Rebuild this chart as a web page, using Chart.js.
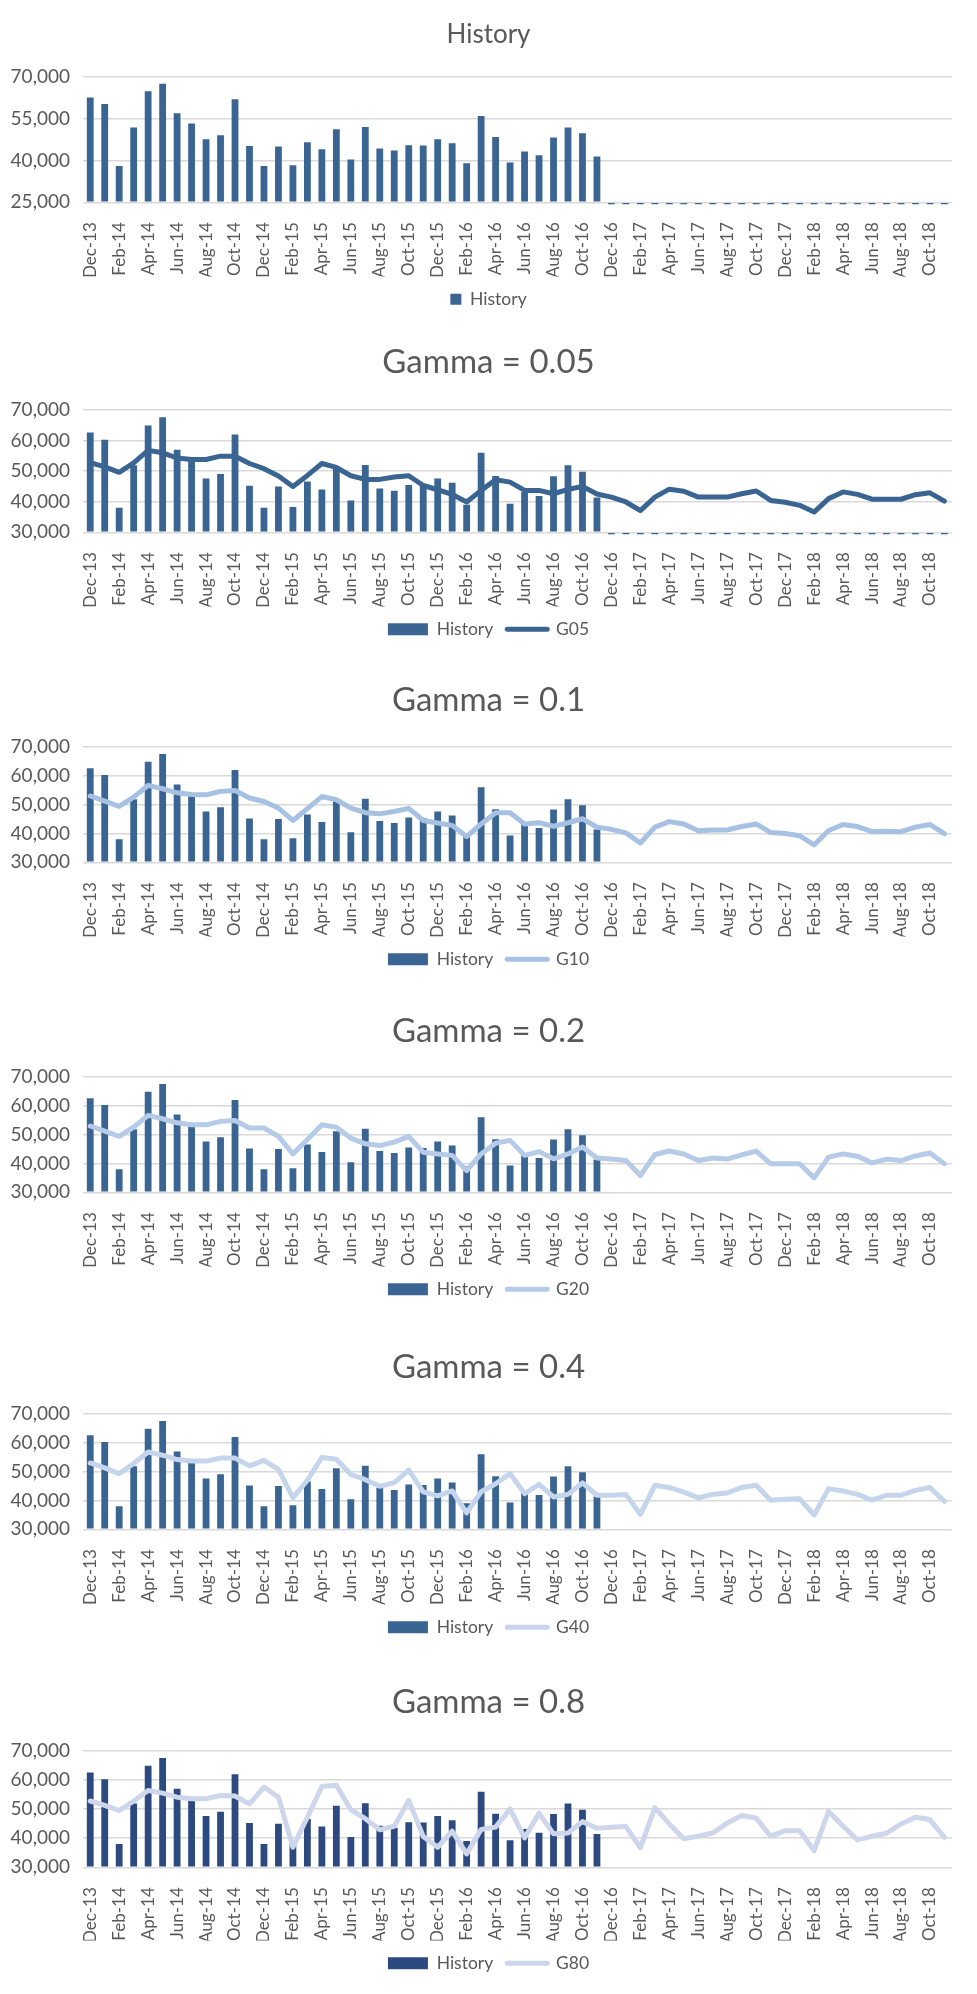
<!DOCTYPE html>
<html>
<head>
<meta charset="utf-8">
<script src="https://cdn.jsdelivr.net/npm/chart.js@4.4.1/dist/chart.umd.min.js"></script>
<style>
  html, body { margin: 0; padding: 0; background: #ffffff; }
  body { position: relative; width: 977px; height: 1994px; overflow: hidden; }
  canvas { position: absolute; left: 0; }
</style>
</head>
<body>
<script>
// months shown on the x axis (every other one gets a label)
const months = [
  'Dec-13',
  'Jan-14', 'Feb-14', 'Mar-14', 'Apr-14', 'May-14', 'Jun-14', 'Jul-14', 'Aug-14', 'Sep-14', 'Oct-14', 'Nov-14', 'Dec-14',
  'Jan-15', 'Feb-15', 'Mar-15', 'Apr-15', 'May-15', 'Jun-15', 'Jul-15', 'Aug-15', 'Sep-15', 'Oct-15', 'Nov-15', 'Dec-15',
  'Jan-16', 'Feb-16', 'Mar-16', 'Apr-16', 'May-16', 'Jun-16', 'Jul-16', 'Aug-16', 'Sep-16', 'Oct-16', 'Nov-16', 'Dec-16',
  'Jan-17', 'Feb-17', 'Mar-17', 'Apr-17', 'May-17', 'Jun-17', 'Jul-17', 'Aug-17', 'Sep-17', 'Oct-17', 'Nov-17', 'Dec-17',
  'Jan-18', 'Feb-18', 'Mar-18', 'Apr-18', 'May-18', 'Jun-18', 'Jul-18', 'Aug-18', 'Sep-18', 'Oct-18', 'Nov-18'
];

// actual sales, Dec-13 .. Nov-16
const history = [
  62600, 60300, 38000, 51900, 64900, 67600, 57000, 53300, 47600, 49100, 62000, 45200,
  38000, 45000, 38300, 46600, 44000, 51200, 40400, 52000, 44300, 43600, 45500, 45400,
  47600, 46200, 39000, 56000, 48400, 39300, 43200, 41900, 48300, 51900, 49800, 41400
];
// the forecast months are zero in the history column (shows as small dashes on the axis)
const historyEmpty = [0, 0, 0, 0, 0, 0, 0, 0, 0, 0, 0, 0, 0, 0, 0, 0, 0, 0, 0, 0, 0, 0, 0, 0];

// fitted + forecast series for each gamma
const g05 = [
  52800, 51400, 49600, 52700, 56800, 56000, 54300, 53800, 53800, 54900, 54900, 52500,
  50800, 48400, 45000, 48600, 52500, 51200, 48500, 47300, 47300, 48100, 48500, 45300,
  43900, 42400, 39900, 43700, 47200, 46400, 43700, 43700, 42600, 44000, 45000, 42500,
  41500, 39900, 37100, 41500, 44100, 43400, 41500, 41500, 41500, 42600, 43500, 40400,
  39800, 38800, 36600, 41000, 43200, 42400, 40800, 40800, 40800, 42300, 42900, 40200
];
const g10 = [
  53000, 51200, 49400, 52600, 56700, 55500, 54100, 53500, 53400, 54600, 54900, 52300,
  51100, 48800, 44500, 48600, 52800, 51700, 48800, 47200, 46800, 47600, 48700, 44500,
  43600, 42800, 38900, 43300, 47200, 47200, 43300, 43700, 42500, 43700, 45100, 42200,
  41400, 40200, 36700, 42200, 44100, 43300, 40900, 41200, 41200, 42400, 43300, 40300,
  40000, 39200, 36000, 41000, 43100, 42400, 40600, 40800, 40600, 42200, 43100, 39900
];
const g20 = [
  53000, 51200, 49400, 52600, 56700, 55500, 54100, 53400, 53400, 54600, 54900, 52300,
  52300, 49400, 43300, 48300, 53400, 52600, 48800, 46800, 46200, 47400, 49400, 43900,
  43300, 42800, 37500, 43300, 47000, 48000, 42800, 44100, 41600, 43300, 45700, 41900,
  41500, 41000, 35800, 43100, 44300, 43300, 41000, 41900, 41500, 43000, 44300, 39900,
  39900, 39900, 35000, 42200, 43300, 42500, 40200, 41500, 41000, 42600, 43600, 39900
];
const g40 = [
  53000, 51300, 49300, 52800, 56800, 55700, 54200, 53700, 53700, 54700, 54700, 52000,
  53900, 50800, 41000, 47000, 54900, 54300, 49000, 47200, 44900, 46200, 50500, 43000,
  41600, 43300, 35700, 43000, 45800, 49300, 42400, 45600, 41200, 42100, 46100, 41800,
  41800, 42100, 35200, 45300, 44500, 42900, 40900, 42100, 42600, 44500, 45300, 40100,
  40400, 40600, 34900, 44100, 43300, 42100, 40100, 41800, 41800, 43500, 44500, 39700
];
const g80 = [
  52800, 51300, 49500, 52800, 56400, 55500, 54100, 53600, 53600, 54700, 54500, 51800,
  57600, 54100, 36900, 47200, 57800, 58200, 49800, 46700, 42900, 44100, 53000, 40600,
  36900, 42400, 34600, 43000, 43800, 50100, 40100, 48600, 41500, 41800, 45700, 43400,
  43800, 44000, 36700, 50500, 44900, 39800, 40700, 41800, 45200, 47800, 46900, 40700,
  42600, 42600, 35700, 49200, 44100, 39400, 40700, 41700, 44900, 47200, 46400, 40300
];

const FONT = 'Lato, Carlito, Calibri, sans-serif';
const TEXT = '#595959';
const GRID = '#D9D9D9';
const BLUE = '#3A6592';

Chart.defaults.font.family = FONT;
Chart.defaults.color = TEXT;

// one entry per stacked chart: title, series, and where it sits on the page
const panels = [
  { title: 'History', titleSize: 26, bars: history.concat(historyEmpty), barColor: BLUE, line: null,
    yMin: 25000, yStep: 15000, titleY: 35, plotTop: 77, plotBottom: 202, legendY: 299 },
  { title: 'Gamma = 0.05', titleSize: 33, bars: history.concat(historyEmpty), barColor: BLUE,
    line: { label: 'G05', data: g05, color: BLUE },
    yMin: 30000, yStep: 10000, titleY: 362, plotTop: 410, plotBottom: 532, legendY: 629 },
  { title: 'Gamma = 0.1', titleSize: 33, bars: history, barColor: BLUE,
    line: { label: 'G10', data: g10, color: '#A7C1E3' },
    yMin: 30000, yStep: 10000, titleY: 700, plotTop: 747, plotBottom: 862, legendY: 959 },
  { title: 'Gamma = 0.2', titleSize: 33, bars: history, barColor: BLUE,
    line: { label: 'G20', data: g20, color: '#B6CBE8' },
    yMin: 30000, yStep: 10000, titleY: 1031, plotTop: 1077, plotBottom: 1192, legendY: 1289 },
  { title: 'Gamma = 0.4', titleSize: 33, bars: history, barColor: BLUE,
    line: { label: 'G40', data: g40, color: '#C5D5EC' },
    yMin: 30000, yStep: 10000, titleY: 1367, plotTop: 1414, plotBottom: 1529, legendY: 1627 },
  { title: 'Gamma = 0.8', titleSize: 33, bars: history, barColor: '#2C4A7F',
    line: { label: 'G80', data: g80, color: '#CED6EC' },
    yMin: 30000, yStep: 10000, titleY: 1702, plotTop: 1751, plotBottom: 1867, legendY: 1963 }
];

const LEGEND_PAD = 14;
const LEGEND_FONT = 17.5;

panels.forEach(p => {
  const lineH = p.titleSize * 1.2;
  const exactTop = p.titleY - lineH / 2;
  const top = Math.floor(exactTop);
  const bottom = Math.ceil(p.legendY + LEGEND_FONT / 2 + 10);
  const xAxisHeight = p.legendY - p.plotBottom - LEGEND_PAD - LEGEND_FONT / 2;

  const canvas = document.createElement('canvas');
  canvas.width = 977;
  canvas.height = bottom - top;
  canvas.style.top = top + 'px';
  document.body.appendChild(canvas);

  const datasets = [{
    type: 'bar',
    label: 'History',
    data: p.bars,
    base: p.yMin,
    backgroundColor: p.barColor,
    barPercentage: 0.47,
    categoryPercentage: 1,
    order: 2,
    clip: { left: 0, top: 0, right: 0, bottom: 2 }
  }];
  if (p.line) {
    datasets.push({
      type: 'line',
      label: p.line.label,
      data: p.line.data,
      borderColor: p.line.color,
      backgroundColor: p.line.color,
      borderWidth: 5,
      pointRadius: 0,
      tension: 0,
      borderJoinStyle: 'round',
      borderCapStyle: 'round',
      order: 1
    });
  }
  const swatch = p.line ? 40 : 11;

  new Chart(canvas.getContext('2d'), {
    type: 'bar',
    data: { labels: months, datasets },
    options: {
      responsive: false,
      animation: false,
      devicePixelRatio: 1,
      layout: { padding: { left: 0, right: 0, top: exactTop - top, bottom: 0 } },
      plugins: {
        tooltip: { enabled: false },
        title: {
          display: true,
          text: p.title,
          color: TEXT,
          font: { family: FONT, size: p.titleSize, weight: 'normal' },
          padding: { top: 0, bottom: p.plotTop - (p.titleY + lineH / 2) }
        },
        legend: {
          position: 'bottom',
          labels: {
            usePointStyle: true,
            pointStyleWidth: swatch,
            boxHeight: p.line ? 12 : 11,
            padding: LEGEND_PAD,
            color: TEXT,
            font: { family: FONT, size: LEGEND_FONT },
            generateLabels: chart => chart.data.datasets.map((ds, i) => ({
              text: ds.label,
              datasetIndex: i,
              hidden: false,
              fontColor: TEXT,
              fillStyle: ds.type === 'line' ? ds.borderColor : ds.backgroundColor,
              strokeStyle: ds.type === 'line' ? ds.borderColor : ds.backgroundColor,
              lineWidth: ds.type === 'line' ? 5 : 0,
              lineCap: 'round',
              pointStyle: ds.type === 'line' ? 'line' : 'rect'
            }))
          }
        }
      },
      scales: {
        x: {
          grid: { display: false },
          border: { display: false },
          afterFit: s => { s.height = xAxisHeight; },
          ticks: {
            autoSkip: false,
            minRotation: 90,
            maxRotation: 90,
            padding: 12,
            color: TEXT,
            font: { family: FONT, size: 17 },
            callback: (v, i) => (i % 2 === 0 ? months[i] : '')
          }
        },
        y: {
          min: p.yMin,
          max: 70000,
          afterFit: s => { s.width = 83; },
          grid: { color: GRID, lineWidth: 1.5, drawTicks: false },
          border: { display: false },
          ticks: {
            stepSize: p.yStep,
            padding: 13,
            color: TEXT,
            font: { family: FONT, size: 19 },
            callback: v => v.toLocaleString('en-US')
          }
        },
        // empty right-hand strip so the plot ends where the original does
        // while the title and legend stay centred on the whole width
        spacer: {
          type: 'linear',
          position: 'right',
          min: 0,
          max: 1,
          afterFit: s => { s.width = 23; },
          grid: { display: false },
          border: { display: false },
          ticks: { display: false }
        }
      }
    }
  });
});
</script>
</body>
</html>
